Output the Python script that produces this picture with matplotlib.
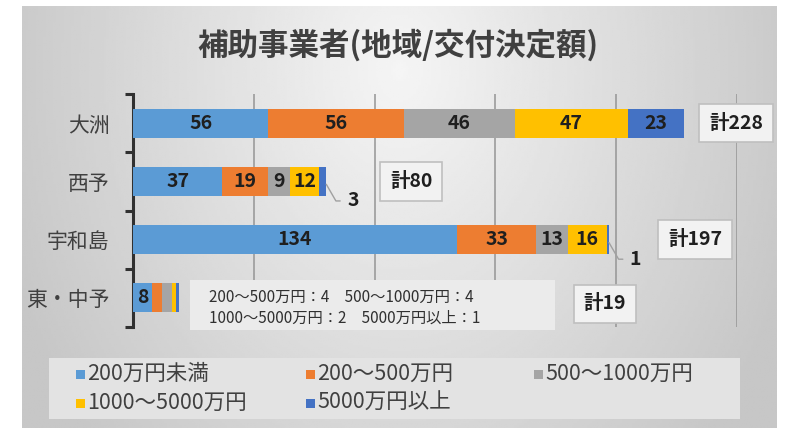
import numpy as np
import matplotlib
matplotlib.use("Agg")
import matplotlib.pyplot as plt
from matplotlib.patches import Rectangle

plt.rcParams['font.family'] = ['Noto Sans CJK JP', 'DejaVu Sans']

# data
regions = ["大洲", "西予", "宇和島", "東・中予"]
series = ["200万円未満", "200～500万円", "500～1000万円", "1000～5000万円", "5000万円以上"]
under200 = [56, 37, 134, 8]
r200_500 = [56, 19, 33, 4]
r500_1000 = [46, 9, 13, 4]
r1000_5000 = [47, 12, 16, 2]
over5000 = [23, 3, 1, 1]
values = [under200, r200_500, r500_1000, r1000_5000, over5000]
colors = ["#5B9BD5", "#ED7D31", "#A5A5A5", "#FFC000", "#4472C4"]
note_text = "200～500万円：4　500～1000万円：4\n1000～5000万円：2　5000万円以上：1"

W, H = 792, 433
fig = plt.figure(figsize=(W / 100, H / 100), dpi=100)
fig.patch.set_facecolor("white")

def fx(px):
    return px / W

def fy(py):
    return 1 - py / H

# gradient background panel
bg = fig.add_axes([fx(22), fy(428), fx(777) - fx(22), fy(6) - fy(428)], zorder=-10)
gx, gy = np.meshgrid(np.linspace(-1, 1, 300), np.linspace(0, 1, 200))
d = np.sqrt((gx / 1.1) ** 2 + ((gy - 0.15) / 1.3) ** 2)
shade = 0.96 - 0.18 * np.clip(d, 0, 1)
bg.imshow(shade, cmap="gray", vmin=0, vmax=1, aspect="auto", extent=[0, 1, 1, 0])
bg.set_axis_off()

fig.text(0.503, fy(45), "補助事業者(地域/交付決定額)", ha="center", va="center",
         fontsize=22, fontweight="bold", color="#404040")

ax = fig.add_axes([fx(133), fy(327), fx(737) - fx(133), fy(94) - fy(327)])
ax.set_facecolor("none")
y = np.arange(len(regions))
left = np.zeros(len(regions))
bars = []
for vals, col, name in zip(values, colors, series):
    b = ax.barh(y, vals, left=left, height=0.5, color=col, label=name, zorder=3)
    bars.append(b)
    left += np.array(vals)
totals = left

ax.set_xlim(0, 250)
ax.set_ylim(3.5, -0.5)
ax.set_xticks([50, 100, 150, 200, 250])
ax.xaxis.grid(True, color="#959595", linewidth=1.1, zorder=0)
ax.tick_params(axis="x", length=0, labelbottom=False)
ax.set_yticks(y)
ax.set_yticklabels(regions, fontsize=15, color="#404040")
ax.set_yticks(np.arange(-0.5, 4, 1), minor=True)
ax.tick_params(axis="y", which="major", length=0, pad=17)
ax.tick_params(axis="y", which="minor", length=6, width=2.2, color="#303030", direction="out")
for s in ["top", "right", "bottom"]:
    ax.spines[s].set_visible(False)
ax.spines["left"].set_color("#303030")
ax.spines["left"].set_linewidth(2.2)

# labels inside bars
lab_col = "#1f1f1f"
for si, b in enumerate(bars):
    for ri, rect in enumerate(b):
        v = values[si][ri]
        if ri == 3 and si > 0:
            continue
        if v <= 3:
            continue
        cx = rect.get_x() + rect.get_width() / 2
        ax.text(cx, ri, str(v), ha="center", va="center", fontsize=14,
                fontweight="bold", color=lab_col, zorder=5)

# small segments with leader lines
for ri in [1, 2]:
    v = over5000[ri]
    ax.annotate(str(v), xy=(totals[ri], ri + 0.05), xytext=(15, -12),
                textcoords="offset points", ha="left", va="center",
                fontsize=14, fontweight="bold", color=lab_col,
                arrowprops=dict(arrowstyle="-", color="#a0a0a0", lw=1,
                                shrinkA=3, shrinkB=0,
                                connectionstyle="angle,angleA=0,angleB=-60,rad=0"))

# totals in boxes
offs = [(52, 0), (85, 0), (86, 0), (426, 6)]
for ri, (ox, oy) in enumerate(offs):
    ax.annotate(f"計{int(totals[ri])}", xy=(totals[ri], ri), xytext=(ox * 0.72, -oy * 0.72),
                textcoords="offset points", ha="center", va="center",
                fontsize=14, fontweight="bold", color=lab_col, zorder=6,
                bbox=dict(boxstyle="square,pad=0.5", fc="#f2f2f2", ec="#bfbfbf", lw=1.2))

# note box
fig.patches.append(Rectangle((fx(190), fy(330)), fx(555) - fx(190), fy(280) - fy(330),
                             transform=fig.transFigure, fc="#ebebeb", ec="none", zorder=4))
fig.text(fx(209), fy(308), note_text, ha="left", va="center", fontsize=11,
         color="#303030", linespacing=1.3, zorder=5)

# legend
fig.patches.append(Rectangle((fx(49), fy(419)), fx(740) - fx(49), fy(358) - fy(419),
                             transform=fig.transFigure, fc="#e3e3e3", ec="none", zorder=4))
pos = [(80, 374), (310, 374), (538, 374), (80, 403), (310, 403)]
for (px, py), col, name in zip(pos, colors, series):
    fig.patches.append(Rectangle((fx(px - 4.5), fy(py + 4.5)), fx(9), 9 / H,
                                 transform=fig.transFigure, fc=col, ec="none", zorder=5))
    fig.text(fx(px + 7), fy(py), name, ha="left", va="center", fontsize=15.5,
             color="#404040", zorder=6)

fig.savefig("out.png", dpi=100)
